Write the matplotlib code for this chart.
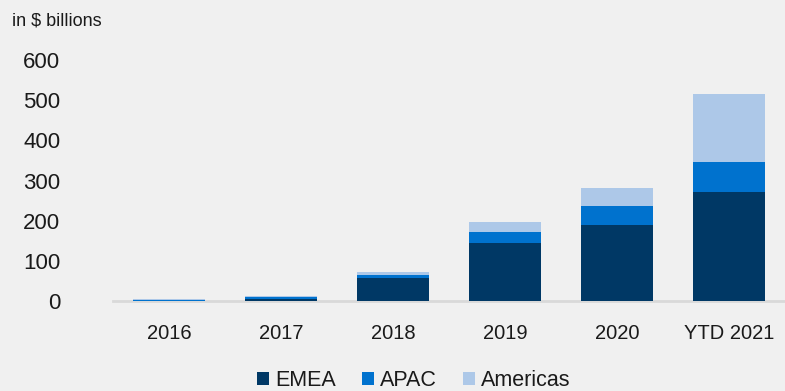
import matplotlib
matplotlib.use('Agg')
import matplotlib.pyplot as plt
import numpy as np

plt.rcParams['font.family'] = ['Liberation Sans', 'DejaVu Sans']

years = ['2016', '2017', '2018', '2019', '2020', 'YTD 2021']
emea = [1, 5, 57, 144, 189, 271]
apac = [2, 4, 8, 28, 47, 75]
americas = [1, 3, 7, 25, 45, 169]

c_emea = '#003865'
c_apac = '#0072CE'
c_amer = '#ADC8E8'
bg = '#F0F0F0'

fig = plt.figure(figsize=(7.85, 3.91), dpi=100, facecolor=bg)
ax = fig.add_axes([113/785, 1 - 301/391, 1 - 113/785, (301 - 60)/391], facecolor=bg)

x = np.arange(len(years))
w = 0.64
emea_a = np.array(emea)
apac_a = np.array(apac)
ax.bar(x, emea, w, color=c_emea, label='EMEA', zorder=2)
ax.bar(x, apac, w, bottom=emea_a, color=c_apac, label='APAC', zorder=2)
ax.bar(x, americas, w, bottom=emea_a + apac_a, color=c_amer, label='Americas', zorder=2)

ax.set_xlim(-0.5, 5.5)
ax.set_ylim(0, 600)
ax.set_yticks(range(0, 601, 100))
ax.set_xticks(x)
ax.set_xticklabels(years)
for s in ['top', 'right', 'left']:
    ax.spines[s].set_visible(False)
ax.spines['bottom'].set_color('#D9D9D9')
ax.spines['bottom'].set_linewidth(2)
ax.spines['bottom'].set_zorder(1)
ax.tick_params(axis='both', length=0, colors='#1a1a1a')
ax.tick_params(axis='y', pad=38, labelsize=16)
ax.tick_params(axis='x', pad=16.5, labelsize=14.5)

fig.text(12/785, 1 - 21/391, 'in $ billions', fontsize=13, va='center', ha='left', color='#1a1a1a')

leg = fig.legend(loc='center', bbox_to_anchor=(414/785, 1 - 381/391), ncol=3, frameon=False,
                 fontsize=15.5, handlelength=0.55, handleheight=0.55, handletextpad=0.3,
                 columnspacing=1.2, borderpad=0.1)
for t in leg.get_texts():
    t.set_color('#1a1a1a')

fig.savefig('out.png', dpi=100, facecolor=bg)
